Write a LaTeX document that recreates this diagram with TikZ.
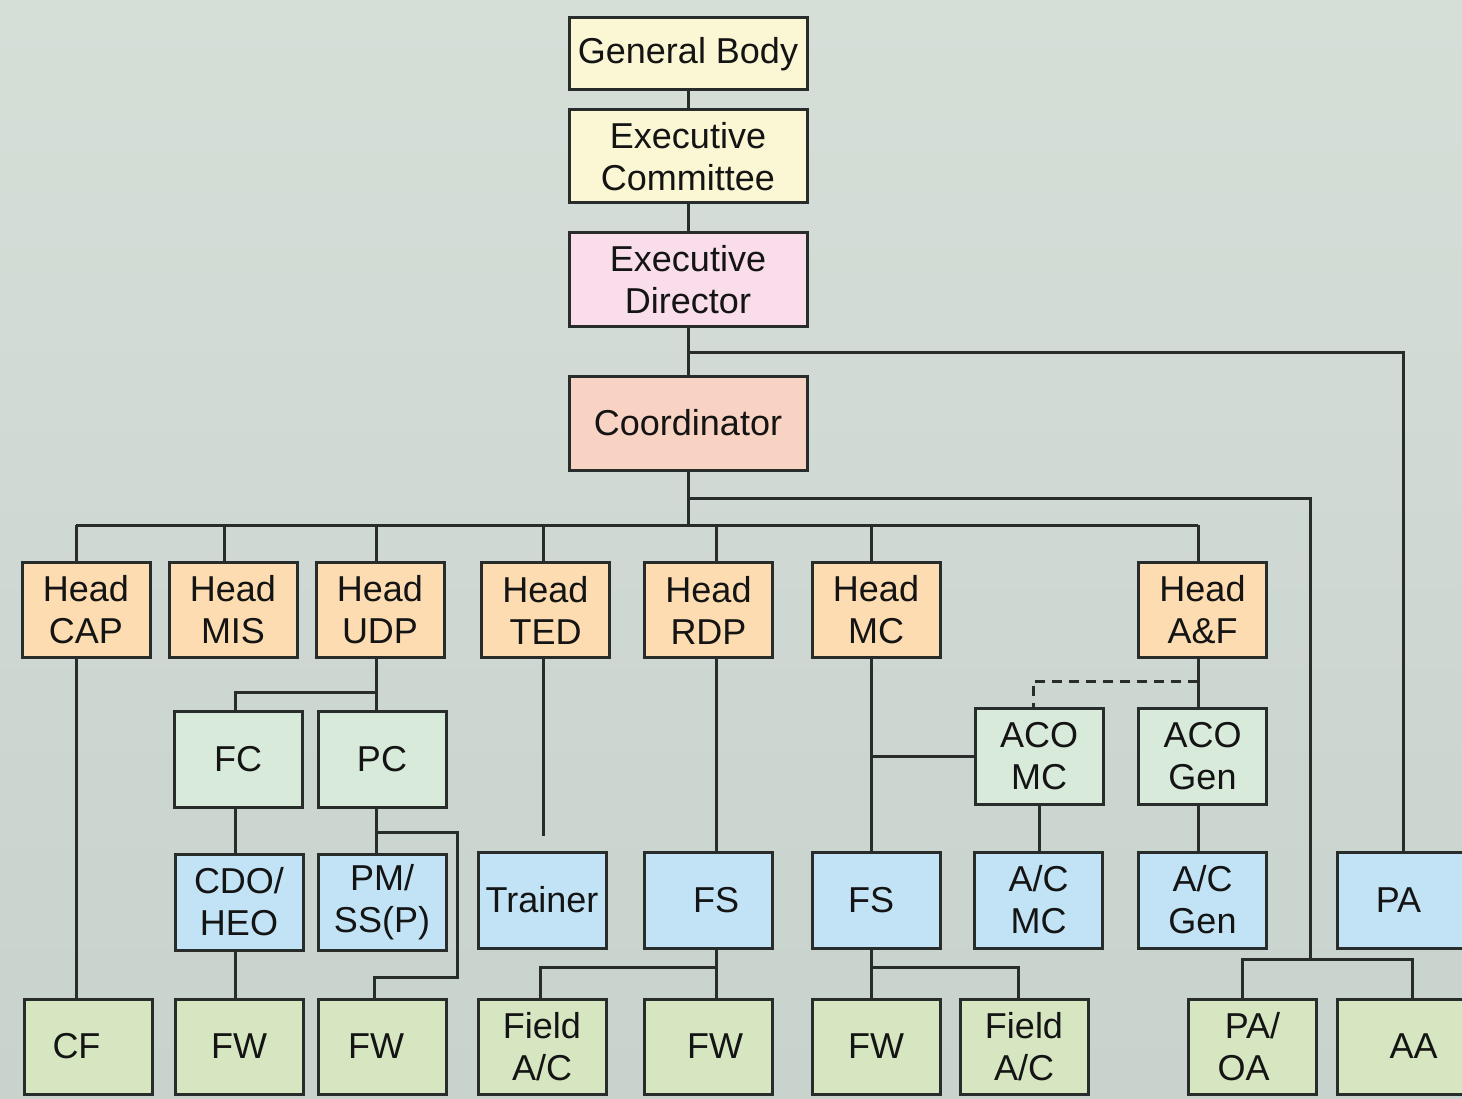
\documentclass[tikz,border=0pt]{standalone}
\usepackage{fontspec}
\setmainfont{Liberation Sans}
\definecolor{bgtop}{RGB}{214,222,216}
\definecolor{bgbot}{RGB}{200,211,205}
\definecolor{cyel}{RGB}{251,246,211}
\definecolor{cpink}{RGB}{249,221,235}
\definecolor{csalm}{RGB}{248,210,194}
\definecolor{chead}{RGB}{252,220,176}
\definecolor{cmint}{RGB}{216,234,218}
\definecolor{cblue}{RGB}{193,227,245}
\definecolor{cgreen}{RGB}{213,230,193}
\definecolor{cline}{RGB}{40,44,42}
\definecolor{ctext}{RGB}{20,20,20}
\tikzset{
  box/.style={draw=cline, line width=3pt, minimum width=128pt, minimum height=95pt,
    inner sep=0pt, align=center, text=ctext,
    font=\fontsize{36}{42}\selectfont},
  topbox/.style={box, minimum width=238pt, minimum height=94pt},
  conn/.style={draw=cline, line width=3pt},
}
\begin{document}
\begin{tikzpicture}[x=1pt,y=-1pt]
\useasboundingbox (0,0) rectangle (1462,1099);
\shade[top color=bgtop, bottom color=bgbot] (0,0) rectangle (1462,1099);
% top chain
\node[topbox, fill=cyel, minimum height=72pt] (gb) at (688,54) {General Body};
\node[topbox, fill=cyel, minimum height=93pt] (ec) at (688,156.5) {Executive\\Committee};
\node[topbox, fill=cpink] (ed) at (688,280) {Executive\\Director};
\node[topbox, fill=csalm] (co) at (688,423) {Coordinator};
% heads
\node[box, fill=chead] (hcap) at (86,610) {Head\\CAP};
\node[box, fill=chead] (hmis) at (233,610) {Head\\MIS};
\node[box, fill=chead] (hudp) at (380,610) {Head\\UDP};
\node[box, fill=chead] (hted) at (545.5,610) {Head\\TED};
\node[box, fill=chead] (hrdp) at (708.5,610) {Head\\RDP};
\node[box, fill=chead] (hmc) at (876,610) {Head\\MC};
\node[box, fill=chead] (haf) at (1202.5,610) {Head\\A\&F};
% row 3
\node[box, fill=cmint, minimum height=96pt] (fc) at (238,759) {FC};
\node[box, fill=cmint, minimum height=96pt] (pc) at (382,759) {PC};
\node[box, fill=cmint, minimum height=96pt] (acomc) at (1039,756) {ACO\\MC};
\node[box, fill=cmint, minimum height=96pt] (acogen) at (1202.5,756) {ACO\\Gen};
% row 4
\node[box, fill=cblue, minimum height=96pt] (cdo) at (239,902) {CDO/\\HEO};
\node[box, fill=cblue, minimum height=96pt] (pm) at (382,902) {PM/\\SS(P)};
\node[box, fill=cblue, minimum height=96pt] (trainer) at (542,900) {Trainer};
\node[box, fill=cblue, minimum height=96pt] (fs1) at (708,900) {\hspace*{16pt}FS};
\node[box, fill=cblue, minimum height=96pt] (fs2) at (876,900) {FS\hspace*{10pt}};
\node[box, fill=cblue, minimum height=96pt] (acmc) at (1038.5,900) {A/C\\MC};
\node[box, fill=cblue, minimum height=96pt] (acgen) at (1202.5,900) {A/C\\Gen};
\node[box, fill=cblue, minimum height=96pt, minimum width=129pt] (pa) at (1401.5,900) {PA\hspace*{6pt}};
% row 5
\node[box, fill=cgreen] (cf) at (88.5,1046.5) {CF\hspace*{24pt}};
\node[box, fill=cgreen] (fw1) at (239,1046.5) {FW};
\node[box, fill=cgreen] (fw2) at (382,1046.5) {FW\hspace*{12pt}};
\node[box, fill=cgreen] (fac1) at (542,1046.5) {Field\\A/C};
\node[box, fill=cgreen] (fw3) at (708,1046.5) {\hspace*{14pt}FW};
\node[box, fill=cgreen] (fw4) at (876,1046.5) {FW};
\node[box, fill=cgreen] (fac2) at (1024,1046.5) {Field\\A/C};
\node[box, fill=cgreen] (paoa) at (1252.5,1046.5) {PA/\\OA\hspace*{18pt}};
\node[box, fill=cgreen, minimum width=129pt] (aa) at (1401.5,1046.5) {\hspace*{24pt}AA};
% helper coordinates
\coordinate (yed) at (0,352);
\coordinate (yco) at (0,498);
\coordinate (ybus) at (0,525);
\coordinate (xpa) at (1403,0);
\coordinate (xout) at (1310,0);
\coordinate (ypb) at (0,959);
\coordinate (xpaoa) at (1242,0);
\coordinate (xaa) at (1412,0);
\coordinate (xcap) at (76,0);
\coordinate (xmis) at (224,0);
\coordinate (xudp) at (376,0);
\coordinate (xted) at (543,0);
\coordinate (xrdp) at (716,0);
\coordinate (xmc) at (871,0);
\coordinate (xaf) at (1198,0);
\coordinate (xfc) at (235,0);
\coordinate (yudp) at (0,692);
\coordinate (ypc) at (0,832);
\coordinate (xpcr) at (457,0);
\coordinate (yfw2) at (0,977);
\coordinate (xfw2) at (374,0);
\coordinate (tedend) at (543,836);
\coordinate (yfs) at (0,967);
\coordinate (xfac1) at (540,0);
\coordinate (xfac2) at (1018,0);
\coordinate (ymc) at (0,756);
\coordinate (ydash) at (0,681);
\coordinate (xaco) at (1033,0);
\coordinate (xacmc) at (1039,0);
% top chain connectors
\draw[conn] (gb.south) -- (ec.north);
\draw[conn] (ec.south) -- (ed.north);
\draw[conn] (ed.south) -- (co.north);
\draw[conn] (ed.south |- yed) -| (pa.north -| xpa);
% coordinator branches
\draw[conn] (co.south) -- (co.south |- ybus);
\draw[conn] (co.south |- yco) -| (xout |- ypb);
\draw[conn] (xpaoa |- paoa.north) |- (xaa |- ypb) -- (xaa |- aa.north);
\draw[conn] (xcap |- ybus) -- (xaf |- ybus);
\draw[conn] (xcap |- ybus) -- (xcap |- hcap.north);
\draw[conn] (xmis |- ybus) -- (xmis |- hmis.north);
\draw[conn] (xudp |- ybus) -- (xudp |- hudp.north);
\draw[conn] (xted |- ybus) -- (xted |- hted.north);
\draw[conn] (xrdp |- ybus) -- (xrdp |- hrdp.north);
\draw[conn] (xmc |- ybus) -- (xmc |- hmc.north);
\draw[conn] (xaf |- ybus) -- (xaf |- haf.north);
% CAP
\draw[conn] (xcap |- hcap.south) -- (xcap |- cf.north);
% UDP
\draw[conn] (xudp |- hudp.south) -- (xudp |- pc.north);
\draw[conn] (xudp |- yudp) -| (xfc |- fc.north);
\draw[conn] (xfc |- fc.south) -- (xfc |- cdo.north);
\draw[conn] (xfc |- cdo.south) -- (xfc |- fw1.north);
\draw[conn] (xudp |- pc.south) -- (xudp |- pm.north);
\draw[conn] (xudp |- ypc) -| (xpcr |- yfw2) -| (xfw2 |- fw2.north);
% TED
\draw[conn] (xted |- hted.south) -- (tedend);
% RDP
\draw[conn] (xrdp |- hrdp.south) -- (xrdp |- fs1.north);
\draw[conn] (xrdp |- fs1.south) -- (xrdp |- fw3.north);
\draw[conn] (xrdp |- yfs) -| (xfac1 |- fac1.north);
% MC
\draw[conn] (xmc |- hmc.south) -- (xmc |- fs2.north);
\draw[conn] (xmc |- ymc) -- (acomc.west |- ymc);
\draw[conn] (xmc |- fs2.south) -- (xmc |- fw4.north);
\draw[conn] (xmc |- yfs) -| (xfac2 |- fac2.north);
% A&F
\draw[conn] (xaf |- haf.south) -- (xaf |- acogen.north);
\draw[conn, dash pattern=on 10pt off 7pt] (xaf |- ydash) -| (xaco |- acomc.north);
\draw[conn] (xacmc |- acomc.south) -- (xacmc |- acmc.north);
\draw[conn] (xaf |- acogen.south) -- (xaf |- acgen.north);
\end{tikzpicture}
\end{document}
